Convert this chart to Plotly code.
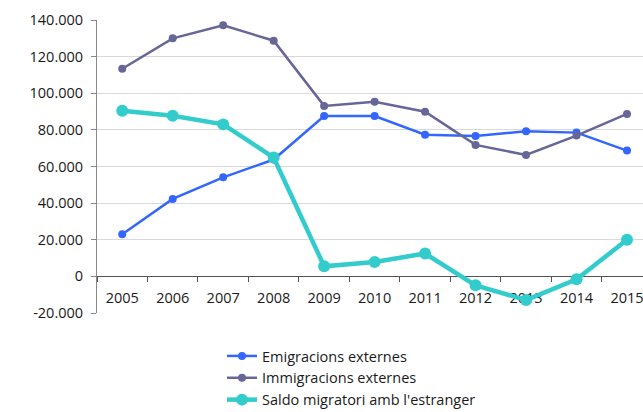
import plotly.graph_objects as go

# Migration flows by year
years = ["2005", "2006", "2007", "2008", "2009", "2010",
         "2011", "2012", "2013", "2014", "2015"]
emigracions = [23000, 42300, 54100, 63800, 87600, 87600,
               77400, 76700, 79200, 78500, 68700]
immigracions = [113400, 130000, 137100, 128700, 93100, 95400,
                89900, 71800, 66300, 76900, 88700]
saldo = [90400, 87700, 83000, 64900, 5500, 7800,
         12500, -4900, -12900, -1600, 20000]

y_ticks = [-20000, 0, 20000, 40000, 60000, 80000, 100000, 120000, 140000]
y_tick_text = ["-20.000", "0", "20.000", "40.000", "60.000", "80.000",
               "100.000", "120.000", "140.000"]

FONT = "Open Sans"
TEXT = "#1A1A1A"

fig = go.Figure()
fig.add_trace(go.Scatter(
    x=years, y=emigracions, name="Emigracions externes",
    mode="lines+markers",
    line=dict(color="#3366FF", width=2.5),
    marker=dict(size=8, color="#3366FF"),
))
fig.add_trace(go.Scatter(
    x=years, y=immigracions, name="Immigracions externes",
    mode="lines+markers",
    line=dict(color="#666699", width=2.5),
    marker=dict(size=8, color="#666699"),
))
fig.add_trace(go.Scatter(
    x=years, y=saldo, name="Saldo migratori amb l'estranger",
    mode="lines+markers",
    line=dict(color="#33CCCC", width=4.5),
    marker=dict(size=12, color="#33CCCC"),
))

y_min, y_max = -20000, 140000
zero_pos = (0 - y_min) / (y_max - y_min)

fig.update_layout(
    width=643, height=412,
    margin=dict(l=97, r=0, t=20, b=99, autoexpand=False),
    paper_bgcolor="white",
    plot_bgcolor="white",
    font=dict(family=FONT, size=14, color=TEXT),
    showlegend=True,
    legend=dict(
        xref="container", yref="container",
        x=222 / 643, y=1 - 340 / 412,
        xanchor="left", yanchor="top",
        font=dict(family=FONT, size=14.5, color=TEXT),
        bgcolor="rgba(0,0,0,0)",
        tracegroupgap=0,
    ),
    xaxis=dict(
        type="category",
        range=[-0.5, 10.317],
        anchor="free", position=zero_pos,
        showgrid=False,
        showline=True, linecolor="#555555", linewidth=1,
        ticks="outside", tickson="boundaries", ticklen=5,
        tickcolor="#555555",
        tickangle=0,
        ticklabelstandoff=8,
        tickfont=dict(family=FONT, size=14.5, color=TEXT),
        layer="below traces",
        zeroline=False,
        automargin=False,
    ),
    yaxis=dict(
        range=[y_min, y_max],
        tickvals=y_ticks, ticktext=y_tick_text,
        showgrid=True, gridcolor="#D9D9D9", gridwidth=1,
        showline=True, linecolor="#888888", linewidth=1,
        ticks="outside", ticklen=5, tickcolor="#888888",
        ticklabelstandoff=5,
        tickfont=dict(family=FONT, size=14.5, color=TEXT),
        zeroline=False,
        layer="below traces",
        automargin=False,
    ),
)

fig.write_html("out.html")
